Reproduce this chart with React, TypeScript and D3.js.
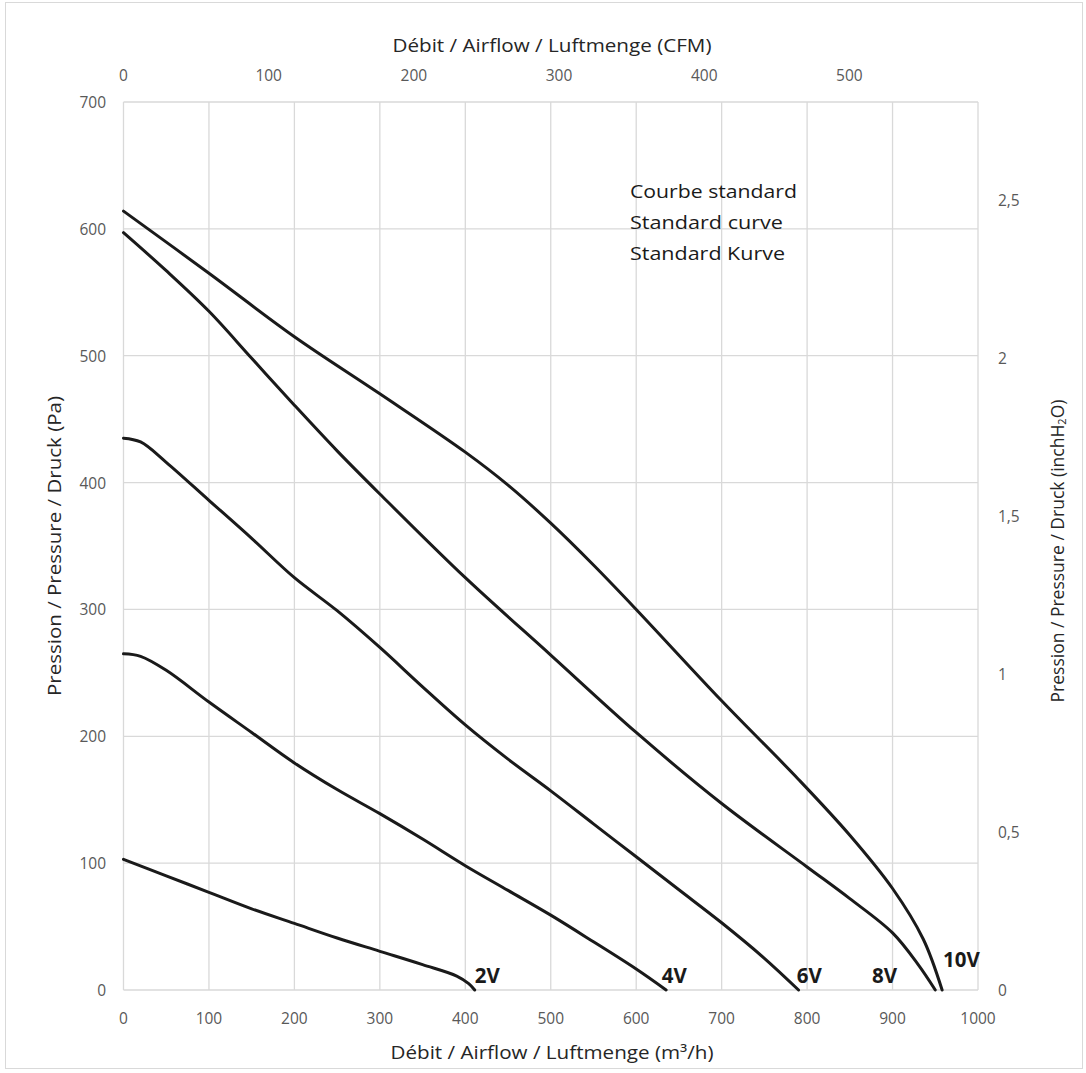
import React from 'react';
import * as d3 from 'd3';

// ---- Data ----
const flow2V = [0, 50, 100, 150, 200, 250, 300, 350, 390, 404, 411];
const pres2V = [103, 90, 77, 64, 52.5, 41, 30.5, 20, 11, 5, 0];

const flow4V = [0, 20, 50, 100, 150, 200, 250, 300, 350, 400, 450, 500, 550, 600, 635];
const pres4V = [265, 263, 252, 227, 203, 179, 158, 139, 119, 98, 78.5, 59, 38, 16.5, 0];

const flow6V = [0, 20, 50, 100, 150, 200, 250, 300, 350, 400, 450, 500, 550, 600, 650, 700, 750, 790];
const pres6V = [435, 432, 416, 386, 356, 325, 299, 270, 239, 209, 182, 157, 131, 105, 79, 53, 25, 0];

const flow8V = [0, 50, 100, 150, 200, 250, 300, 400, 500, 600, 700, 800, 850, 900, 930, 950];
const pres8V = [597, 567, 535, 498, 461, 425, 391, 325, 264, 203, 147, 97, 72, 45, 20, 0];

const flow10V = [0, 100, 200, 300, 400, 450, 500, 550, 600, 700, 790, 850, 900, 936, 958];
const pres10V = [614, 565, 515, 470, 424, 398, 368, 335, 300, 228, 166, 122, 80, 40, 0];

const seriesNames = ['2V', '4V', '6V', '8V', '10V'];
const seriesFlows = [flow2V, flow4V, flow6V, flow8V, flow10V];
const seriesPressures = [pres2V, pres4V, pres6V, pres8V, pres10V];

const xTicks = [0, 100, 200, 300, 400, 500, 600, 700, 800, 900, 1000];
const yTicks = [0, 100, 200, 300, 400, 500, 600, 700];
const cfmTicks = [0, 100, 200, 300, 400, 500];
const inchTicks = [0, 0.5, 1, 1.5, 2, 2.5];
const annotationLines = ['Courbe standard', 'Standard curve', 'Standard Kurve'];

const M3H_PER_CFM = 1.699;
const PA_PER_INCH = 249.09;

// label anchors (data coordinates)
const labelFlow = [411, 630, 788, 876, 959];
const labelPres = [5.5, 5.5, 5.5, 5.5, 18];

const W = 1086;
const H = 1073;
const left = 123.5, right = 978, top = 102, bottom = 990;

const FONT = '"Open Sans", "Liberation Sans", sans-serif';
const TICK_COLOR = '#595959';
const GRID = '#d9d9d9';

export default function App() {
  const x = d3.scaleLinear().domain([0, 1000]).range([left, right]);
  const y = d3.scaleLinear().domain([0, 700]).range([bottom, top]);
  const xCfm = d3.scaleLinear().domain([0, 1000 / M3H_PER_CFM]).range([left, right]);
  const yInch = d3.scaleLinear().domain([0, 700 / PA_PER_INCH]).range([bottom, top]);

  const line = d3
    .line<[number, number]>()
    .x((d) => x(d[0]))
    .y((d) => y(d[1]))
    .curve(d3.curveCatmullRom.alpha(0.5));

  const fmtComma = (v: number) => String(v).replace('.', ',');

  return (
    <svg
      width={W}
      height={H}
      style={{ position: 'absolute', left: 0, top: 0, background: '#fff' }}
      fontFamily={FONT}
    >
      <rect x={0} y={0} width={W} height={H} fill="#fff" />
      <rect x={5.5} y={2.5} width={1077} height={1066} fill="none" stroke="#d9d9d9" strokeWidth={1} />

      {/* grid */}
      {xTicks.map((t) => (
        <line key={'gx' + t} x1={x(t)} x2={x(t)} y1={top} y2={bottom} stroke={GRID} strokeWidth={1.3} />
      ))}
      {yTicks.map((t) => (
        <line key={'gy' + t} x1={left} x2={right} y1={y(t)} y2={y(t)} stroke={GRID} strokeWidth={1.3} />
      ))}

      {/* bottom ticks */}
      {xTicks.map((t) => (
        <text key={'bx' + t} x={x(t)} y={1018} textAnchor="middle" dominantBaseline="central" fontSize={15.5} fill={TICK_COLOR}>
          {t}
        </text>
      ))}
      {/* top ticks (CFM) */}
      {cfmTicks.map((t) => (
        <text key={'tx' + t} x={xCfm(t)} y={75} textAnchor="middle" dominantBaseline="central" fontSize={15.5} fill={TICK_COLOR}>
          {t}
        </text>
      ))}
      {/* left ticks */}
      {yTicks.map((t) => (
        <text key={'ly' + t} x={106} y={y(t)} textAnchor="end" dominantBaseline="central" fontSize={15.5} fill={TICK_COLOR}>
          {t}
        </text>
      ))}
      {/* right ticks */}
      {inchTicks.map((t) => (
        <text key={'ry' + t} x={998} y={yInch(t)} textAnchor="start" dominantBaseline="central" fontSize={15.5} fill={TICK_COLOR}>
          {fmtComma(t)}
        </text>
      ))}

      {/* axis titles */}
      <text x={552} y={45} textAnchor="middle" dominantBaseline="central" fontSize={17.5} fill="#262626" textLength={319} lengthAdjust="spacingAndGlyphs">
        Débit / Airflow / Luftmenge (CFM)
      </text>
      <text x={552} y={1052} textAnchor="middle" dominantBaseline="central" fontSize={17.5} fill="#262626" textLength={323} lengthAdjust="spacingAndGlyphs">
        Débit / Airflow / Luftmenge (m³/h)
      </text>
      <text
        transform={`translate(53.5, 546) rotate(-90)`}
        textAnchor="middle"
        dominantBaseline="central"
        fontSize={17.5}
        fill="#262626"
        textLength={300}
        lengthAdjust="spacingAndGlyphs"
      >
        Pression / Pressure / Druck (Pa)
      </text>
      <text
        transform={`translate(1057, 551) rotate(-90)`}
        textAnchor="middle"
        dominantBaseline="central"
        fontSize={17.5}
        fill="#262626"
      >
        Pression / Pressure / Druck (inchH
        <tspan fontSize={11} dy={4}>2</tspan>
        <tspan dy={-4}>O)</tspan>
      </text>

      {/* annotation */}
      {annotationLines.map((s, i) => (
        <text key={s} x={630} y={198 + i * 31} fontSize={18.5} fill="#1a1a1a" textLength={[167, 153, 155][i]} lengthAdjust="spacingAndGlyphs">
          {s}
        </text>
      ))}

      {/* curves */}
      {seriesNames.map((name, i) => {
        const pts: [number, number][] = seriesFlows[i].map((f, j) => [f, seriesPressures[i][j]]);
        return (
          <path key={name} d={line(pts) || ''} fill="none" stroke="#1a1a1a" strokeWidth={3} strokeLinejoin="round" strokeLinecap="round" />
        );
      })}

      {/* curve labels */}
      {seriesNames.map((name, i) => (
        <text key={'lab' + name} x={x(labelFlow[i])} y={y(labelPres[i])} fontSize={20.5} fontWeight="bold" fill="#1a1a1a">
          {name}
        </text>
      ))}
    </svg>
  );
}
